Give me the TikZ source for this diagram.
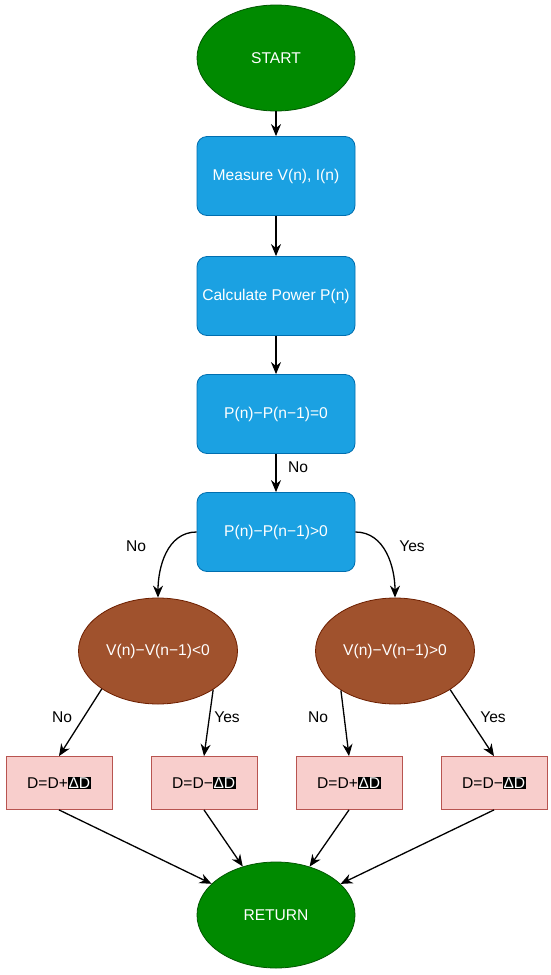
\documentclass[tikz,border=0pt]{standalone}
\usepackage{fontspec}
\setmainfont{Liberation Sans}
\usetikzlibrary{shapes.geometric,arrows.meta}
\definecolor{gfill}{HTML}{008A00}
\definecolor{gline}{HTML}{005700}
\definecolor{bfill}{HTML}{1BA1E2}
\definecolor{bline}{HTML}{006EAF}
\definecolor{sfill}{HTML}{A0522D}
\definecolor{sline}{HTML}{6D1F00}
\definecolor{pfill}{HTML}{F8CECC}
\definecolor{pline}{HTML}{B85450}
\newcommand{\hlD}{{\setlength{\fboxsep}{0.6pt}\colorbox{black}{\textcolor{white}{ΔD}}}}
\tikzset{
  every node/.style={font=\fontsize{15.6}{18}\selectfont},
  termnode/.style={ellipse, draw=gline, fill=gfill, text=white, line width=0.8pt, minimum width=158pt, minimum height=106pt, inner sep=0pt},
  procnode/.style={rectangle, rounded corners=10pt, draw=bline, fill=bfill, text=white, line width=0.8pt, minimum width=158pt, minimum height=79pt, inner sep=0pt},
  decnode/.style={ellipse, draw=sline, fill=sfill, text=white, line width=0.8pt, minimum width=159pt, minimum height=106pt, inner sep=0pt},
  actnode/.style={rectangle, draw=pline, fill=pfill, text=black, line width=0.8pt, minimum width=106pt, minimum height=53pt, inner sep=0pt},
  conn/.style={draw=black, line width=1.3pt, -{Stealth[length=12pt,width=10pt]}},
  lbl/.style={text=black, inner sep=1pt}
}
\begin{document}
\begin{tikzpicture}[x=1pt,y=-1pt]
\useasboundingbox[fill=white] (0,0) rectangle (550,975);
\node[termnode] (start) at (276,58) {START};
\node[procnode] (meas) at (276,176) {Measure V(n), I(n)};
\node[procnode] (calc) at (276,296) {Calculate Power P(n)};
\node[procnode] (peq) at (276,414) {P(n)−P(n−1)=0};
\node[procnode] (pgt) at (276,532) {P(n)−P(n−1)>0};
\node[decnode] (vlt) at (158,651) {V(n)−V(n−1)<0};
\node[decnode] (vgt) at (395,651) {V(n)−V(n−1)>0};
\node[actnode] (b1) at (59,783) {D=D+\hlD};
\node[actnode] (b2) at (204,783) {D=D−\hlD};
\node[actnode] (b3) at (349,783) {D=D+\hlD};
\node[actnode] (b4) at (494,783) {D=D−\hlD};
\node[termnode] (ret) at (276,915) {RETURN};

\draw[conn] (start) -- (meas);
\draw[conn] (meas) -- (calc);
\draw[conn] (calc) -- (peq);
\draw[conn] (peq) -- (pgt);
\node[lbl] (lno0) at (298,467) {No};
\draw[conn] (pgt.west) to[out=180,in=90] (vlt.north);
\draw[conn] (pgt.east) to[out=0,in=90] (vgt.north);
\node[lbl] (lno1) at (136,546) {No};
\node[lbl] (lyes1) at (412,546) {Yes};

\draw[conn] (vlt.214) -- (b1.north);
\draw[conn] (vlt.325) -- (b2.north);
\draw[conn] (vgt.216) -- (b3.north);
\draw[conn] (vgt.325) -- (b4.north);
\node[lbl] (lno2) at (62,717) {No};
\node[lbl] (lyes2) at (227,717) {Yes};
\node[lbl] (lno3) at (318,717) {No};
\node[lbl] (lyes3) at (493,717) {Yes};

\draw[conn] (b1.south) -- (ret);
\draw[conn] (b2.south) -- (ret);
\draw[conn] (b3.south) -- (ret);
\draw[conn] (b4.south) -- (ret);
\end{tikzpicture}
\end{document}
